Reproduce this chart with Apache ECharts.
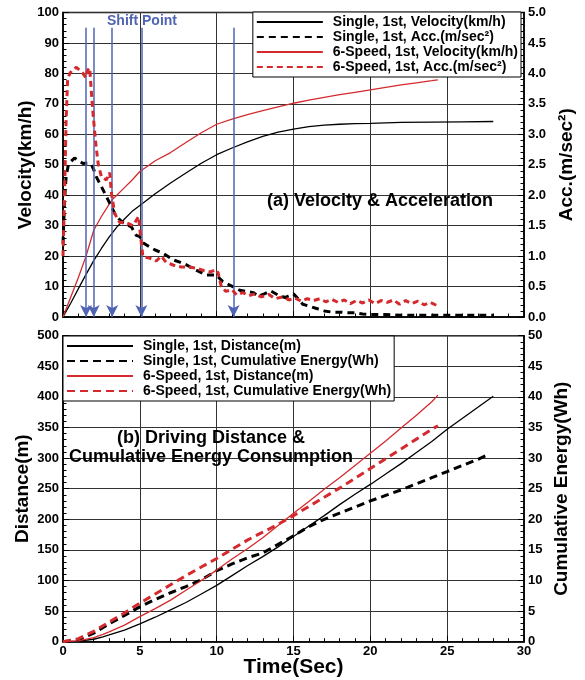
<!DOCTYPE html>
<html><head><meta charset="utf-8">
<script src="https://cdn.jsdelivr.net/npm/echarts@6/dist/echarts.min.js"></script>
<style>html,body{margin:0;padding:0;background:#fff}#c{width:585px;height:680px}</style>
</head><body><div id="c"></div>
<script>
// ---------- (a) Velocity & Acceleration ----------
const singleVelT = [0,0.5,1,1.5,2,2.5,3,3.5,4,4.5,5,6,7,8,9,10,11,12,13,14,15,16,17,18,19,20,22,24,26,28];
const singleVel  = [0,4.5,9.3,14,18.5,22.5,26.2,29.5,32.2,34.7,36.6,40.5,44,47.3,50.5,53.3,55.5,57.5,59.3,60.7,61.7,62.5,63,63.3,63.5,63.6,63.9,64,64.1,64.2];

const sixVelT = [0,0.5,1,1.5,2,2.5,3,3.2,3.5,4,4.5,5,5.5,6,7,8,9,10,11,12,13,14,15,16,17,18,19,20,21,22,23,24,24.4];
const sixVel  = [0,6.5,13,20,28.5,33,37,38.5,40,42.5,45,47.8,49.5,51.3,54,57.3,60.5,63.3,65,66.5,67.8,69,70.2,71.2,72.1,73,73.8,74.6,75.4,76.2,76.9,77.6,77.9];

const singleAccT = [0,0.1,0.2,0.35,0.5,0.75,1,1.3,1.6,1.85,2,2.17,2.5,2.82,3.15,3.47,3.9,4.45,4.77,5,5.2,5.64,6,6.5,7.15,7.6,8,8.67,9.3,9.97,10.4,11.05,11.5,11.9,12.4,12.7,13.1,13.5,14,14.45,15,15.3,15.6,16,16.5,17,17.5,18,18.5,19,19.5,20,21,22,23,24,25,26,27,28];
const singleAcc  = [1.2,1.9,2.3,2.5,2.55,2.61,2.57,2.52,2.53,2.5,2.42,2.3,2.14,1.98,1.81,1.65,1.55,1.48,1.34,1.32,1.22,1.15,1.1,1.05,0.94,0.9,0.86,0.77,0.69,0.69,0.58,0.5,0.44,0.42,0.4,0.34,0.38,0.43,0.36,0.32,0.38,0.3,0.21,0.18,0.14,0.1,0.08,0.08,0.07,0.07,0.05,0.04,0.04,0.03,0.03,0.03,0.03,0.03,0.03,0.03];

const sixAccT = [0,0.1,0.2,0.3,0.44,0.6,0.87,1.1,1.3,1.48,1.6,1.74,1.85,1.97,2.13,2.28,2.5,2.82,3.04,3.15,3.36,3.69,4.1,4.55,4.92,5.05,5.2,5.6,6.07,6.4,6.7,7.2,7.7,8.2,8.7,9.2,9.6,9.95,10.1,10.3,10.6,11,11.3,11.7,12.1,12.5,12.9,13.4,13.8,14.3,14.7,15.1,15.5,15.9,16.3,16.7,17.1,17.5,17.9,18.3,18.7,19.1,19.5,19.9,20.3,20.7,21.1,21.5,21.9,22.3,22.7,23.1,23.5,23.9,24.4];
const sixAcc  = [1.0,2.0,3.2,3.9,4.0,4.05,4.1,4.05,4.0,3.93,4.05,4.09,3.68,3.29,2.86,2.53,2.3,2.25,2.37,2.04,1.7,1.55,1.55,1.5,1.65,1.32,0.99,0.97,0.92,1.0,0.9,0.85,0.82,0.82,0.8,0.76,0.74,0.78,0.72,0.5,0.42,0.45,0.36,0.4,0.35,0.38,0.33,0.37,0.3,0.33,0.28,0.31,0.26,0.3,0.27,0.3,0.25,0.29,0.24,0.28,0.22,0.27,0.23,0.28,0.22,0.27,0.24,0.28,0.21,0.27,0.22,0.26,0.2,0.24,0.18];

const shiftTimes = [1.5, 2.0, 3.2, 5.1, 11.1];
const arrowTop = 95;

// ---------- (b) Distance & Cumulative Energy ----------
const singleDistT = [0,1,2,2.6,3,4,5,6,7,8,9,10,11,12,13,14,15,16,17,18,19,20,21,22,23,24,25,26,27,28];
const singleDist  = [0,1,4,8,11,19,29,40,52,64,78,92,108,124,139,155,172,189,206,224,241,257,274,291,309,327,347,365,383,401];

const singleEnT = [0,1,2,3,4,5,6,7,8,9,10,11,12,13,14,15,16,17,18,19,20,21,22,23,24,25,26,27,27.7];
const singleEn  = [0,0.3,1.4,2.9,4.3,5.7,6.9,8.0,9.0,10.1,11.6,12.7,13.7,14.5,15.9,17.3,18.8,20.0,21.0,22.0,23.0,23.9,24.8,25.8,26.8,27.8,28.8,29.8,30.6];

const sixDistT = [0,1,2,2.6,3,4,5,6,7,8,9,10,11,12,13,14,15,16,17,18,19,20,21,22,23,24,24.4];
const sixDist  = [0,1.5,6.5,12,16,27,41,54,68,84,100,117,135,152,170,190,210,229,249,268,288,308,328,349,370,392,403];

const sixEnT = [0,1,2,2.6,3,4,5,6,7,8,9,10,11,12,13,13.4,14,15,16,17,18,19,20,21,22,23,24,24.4];
const sixEn  = [0,0.5,1.7,2.6,3.2,4.7,6.3,7.8,9.3,10.8,12.2,13.6,15.1,16.6,17.9,18.4,19.2,20.6,22.1,23.6,25.1,26.7,28.3,29.9,31.5,33.1,34.7,35.3];

const zip = (a, b) => a.map((t, i) => [t, b[i]]);

const FONT = 'Liberation Sans';
const RED = '#d42a2e';
const BLUE = '#5064b4';
const lbl = {color:'#000', fontFamily:FONT, fontWeight:'bold', fontSize:13};
const nameStyle = {color:'#000', fontFamily:FONT, fontWeight:'bold', fontSize:19};
const axLine = {show:true, lineStyle:{color:'#000', width:1.5}};
const split = {show:true, lineStyle:{color:'#333', width:1}};
const tick = {show:true, inside:true, length:6, lineStyle:{color:'#000'}};
const minor = {show:true, splitNumber:5, length:3.5, lineStyle:{color:'#000'}};

function xAx(grid, showLabel, name) {
  return {type:'value', gridIndex:grid, min:0, max:30, interval:5,
    axisLine:axLine, axisTick:tick, minorTick:minor, splitLine:split,
    axisLabel:{show:showLabel, ...lbl, margin:3},
    name:name||'', nameLocation:'middle', nameGap:15, nameMoveOverlap:false,
    nameTextStyle:{...nameStyle, fontSize:21}};
}
function yAx(grid, pos, max, interval, name, gap, fmt, showSplit) {
  return {type:'value', gridIndex:grid, position:pos, min:0, max:max, interval:interval,
    axisLine:axLine, axisTick:tick, minorTick:minor,
    splitLine:showSplit ? split : {show:false},
    axisLabel:{...lbl, margin:4, formatter:fmt},
    name:name, nameLocation:'middle', nameGap:gap, nameMoveOverlap:false, nameTextStyle:nameStyle};
}

const legendCommon = {orient:'vertical', selectedMode:false, itemWidth:66, itemHeight:14, itemGap:1,
  borderColor:'#000', borderWidth:1, backgroundColor:'#fff', padding:[3,3,3,3],
  itemStyle:{color:'rgba(0,0,0,0)', borderWidth:0, opacity:0},
  textStyle:{...lbl, fontSize:14, padding:[0,0,0,5]}};

const option = {
  animation:false,
  backgroundColor:'#fff',
  grid:[
    {left:63, right:61, top:12.5, height:304.5, show:true, borderColor:'#000', borderWidth:1.5,
      backgroundColor:'transparent', containLabel:false, outerBoundsMode:'none'},
    {left:63, right:61, top:335.7, height:306, show:true, borderColor:'#000', borderWidth:1.5,
      backgroundColor:'transparent', containLabel:false, outerBoundsMode:'none'}
  ],
  xAxis:[xAx(0,false), xAx(1,true,'Time(Sec)')],
  yAxis:[
    yAx(0,'left',100,10,'Velocity(km/h)',28,v=>v,true),
    yAx(0,'right',5,0.5,'Acc.(m/sec²)',33,v=>v.toFixed(1),false),
    yAx(1,'left',500,50,'Distance(m)',31,v=>v,true),
    yAx(1,'right',50,5,'Cumulative Energy(Wh)',28,v=>v,false)
  ],
  legend:[
    {...legendCommon, right:64, top:12,
      data:['Single, 1st, Velocity(km/h)','Single, 1st, Acc.(m/sec²)','6-Speed, 1st, Velocity(km/h)','6-Speed, 1st, Acc.(m/sec²)']},
    {...legendCommon, left:63, top:336,
      data:['Single, 1st, Distance(m)','Single, 1st, Cumulative Energy(Wh)','6-Speed, 1st, Distance(m)','6-Speed, 1st, Cumulative Energy(Wh)']}
  ],
  series:[
    {name:'Single, 1st, Velocity(km/h)', type:'line', xAxisIndex:0, yAxisIndex:0, symbol:'none',
      lineStyle:{color:'#000', width:1.3}, itemStyle:{color:'#000'}, data:zip(singleVelT, singleVel), z:3,
      markLine:{silent:true, symbol:['none','arrow'], symbolSize:[9,12], label:{show:false},
        lineStyle:{color:BLUE, width:1.5, type:'solid'},
        data:shiftTimes.map(t => [{coord:[t, arrowTop]}, {coord:[t, 0]}])}},
    {name:'Single, 1st, Acc.(m/sec²)', type:'line', xAxisIndex:0, yAxisIndex:1, symbol:'none',
      lineStyle:{color:'#000', width:3, type:[7,5]}, itemStyle:{color:'#000'}, data:zip(singleAccT, singleAcc), z:4},
    {name:'6-Speed, 1st, Velocity(km/h)', type:'line', xAxisIndex:0, yAxisIndex:0, symbol:'none',
      lineStyle:{color:RED, width:1.3}, itemStyle:{color:RED}, data:zip(sixVelT, sixVel), z:3},
    {name:'6-Speed, 1st, Acc.(m/sec²)', type:'line', xAxisIndex:0, yAxisIndex:1, symbol:'none',
      lineStyle:{color:RED, width:3, type:[6,4]}, itemStyle:{color:RED}, data:zip(sixAccT, sixAcc), z:5},

    {name:'Single, 1st, Distance(m)', type:'line', xAxisIndex:1, yAxisIndex:2, symbol:'none',
      lineStyle:{color:'#000', width:1.3}, itemStyle:{color:'#000'}, data:zip(singleDistT, singleDist)},
    {name:'Single, 1st, Cumulative Energy(Wh)', type:'line', xAxisIndex:1, yAxisIndex:3, symbol:'none',
      lineStyle:{color:'#000', width:3, type:[8,5]}, itemStyle:{color:'#000'}, data:zip(singleEnT, singleEn)},
    {name:'6-Speed, 1st, Distance(m)', type:'line', xAxisIndex:1, yAxisIndex:2, symbol:'none',
      lineStyle:{color:RED, width:1.3}, itemStyle:{color:RED}, data:zip(sixDistT, sixDist)},
    {name:'6-Speed, 1st, Cumulative Energy(Wh)', type:'line', xAxisIndex:1, yAxisIndex:3, symbol:'none',
      lineStyle:{color:RED, width:3, type:[8,5]}, itemStyle:{color:RED}, data:zip(sixEnT, sixEn)}
  ],
  graphic:[
    {type:'text', left:107, top:14, z:100, style:{text:'Shift Point', fill:BLUE, font:'bold 14px "Liberation Sans"'}},
    {type:'text', left:267, top:192, z:100, style:{text:'(a) Velocity & Acceleration', fill:'#000', font:'bold 18px "Liberation Sans"'}},
    {type:'text', x:211, y:438, z:100, style:{text:'(b) Driving Distance &', fill:'#000', font:'bold 18px "Liberation Sans"', align:'center', verticalAlign:'middle'}},
    {type:'text', x:211, y:457, z:100, style:{text:'Cumulative Energy Consumption', fill:'#000', font:'bold 18px "Liberation Sans"', align:'center', verticalAlign:'middle'}}
  ]
};
echarts.init(document.getElementById('c'), null, {renderer:'canvas'}).setOption(option);
</script>
</body></html>
